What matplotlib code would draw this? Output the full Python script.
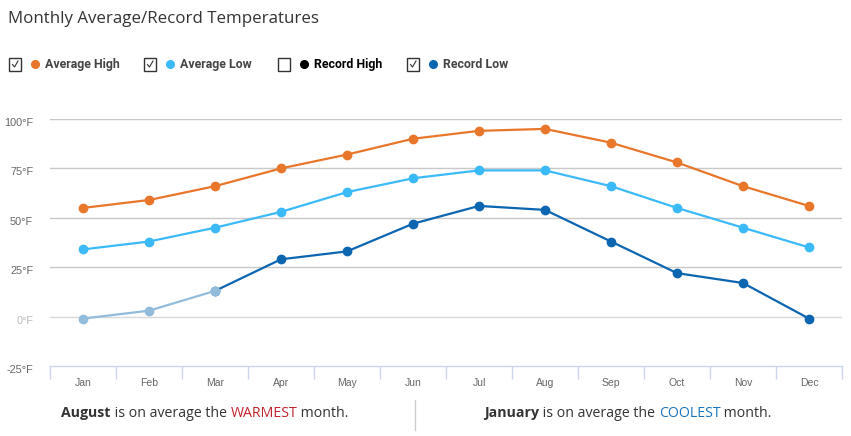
import matplotlib
matplotlib.use('Agg')
import matplotlib.pyplot as plt
import matplotlib.transforms as mtransforms
from matplotlib.lines import Line2D
from matplotlib.patches import Rectangle

months = ['Jan', 'Feb', 'Mar', 'Apr', 'May', 'Jun', 'Jul', 'Aug', 'Sep', 'Oct', 'Nov', 'Dec']
avg_high = [55, 59, 66, 75, 82, 90, 94, 95, 88, 78, 66, 56]
avg_low = [34, 38, 45, 53, 63, 70, 74, 74, 66, 55, 45, 35]
record_low = [-1, 3, 13, 29, 33, 47, 56, 54, 38, 22, 17, -1]
y_ticks = [-25, 0, 25, 50, 75, 100]
y_labels = ['-25°F', '0°F', '25°F', '50°F', '75°F', '100°F']

legend_names = ['Average High', 'Average Low', 'Record High', 'Record Low']
legend_colors = ['#e8762b', '#3cbaf7', '#000000', '#0b65b1']
legend_checked = [True, True, False, True]

c_high, c_low, c_rec = '#e8762b', '#3cbaf7', '#0b65b1'
c_faded = '#93bcdc'

W, H = 851, 436
fig = plt.figure(figsize=(W / 100, H / 100), dpi=100)

def fx(px):
    return px / W

def fy(py):
    return 1 - py / H

ax = fig.add_axes([fx(50), fy(366), fx(842) - fx(50), fy(119) - fy(366)])
ax.set_xlim(-0.5, 11.5)
ax.set_ylim(-25, 100)
for s in ['top', 'right', 'left']:
    ax.spines[s].set_visible(False)
ax.spines['bottom'].set_color('#ccd6eb')
ax.spines['bottom'].set_linewidth(1)

for v in y_ticks[1:]:
    ax.axhline(v, color='#c8c8c8' if v != 0 else '#d8d8d8', lw=1, zorder=0)

x = list(range(12))
ax.plot(x, avg_high, color=c_high, lw=1.6, marker='o', ms=6, zorder=3)
ax.plot(x, avg_low, color=c_low, lw=1.6, marker='o', ms=6, zorder=3)
ax.plot(x[2:], record_low[2:], color=c_rec, lw=1.6, marker='o', ms=6, zorder=3)
ax.plot(x[:3], record_low[:3], color=c_faded, lw=1.6, marker='o', ms=6, zorder=4)

ax.set_yticks(y_ticks)
ax.set_yticklabels(y_labels)
ax.tick_params(axis='y', length=0, pad=15, labelsize=7.8, labelcolor='#666666')
shift = mtransforms.ScaledTranslation(4 / 100, -3 / 100, fig.dpi_scale_trans)
for lbl in ax.get_yticklabels():
    lbl.set_fontfamily('Liberation Sans')
    lbl.set_transform(lbl.get_transform() + shift)
ax.get_yticklabels()[1].set_color('#bbbbbb')

ax.set_xticks(x)
ax.set_xticklabels(months)
ax.tick_params(axis='x', which='major', length=0, pad=9, labelsize=7.5, labelcolor='#666666')
for lbl in ax.get_xticklabels():
    lbl.set_fontfamily('Liberation Sans')
ax.set_xticks([i - 0.5 for i in range(13)], minor=True)
ax.tick_params(axis='x', which='minor', length=9, color='#ccd6eb', width=1)

# title
fig.text(fx(8), fy(19), 'Monthly Average/Record Temperatures', fontsize=12.2,
         family='Open Sans', color='#333333', ha='left', va='center')

# legend with checkboxes
box_x = [9, 144, 278, 407]
for bx, name, col, chk in zip(box_x, legend_names, legend_colors, legend_checked):
    fig.patches.append(Rectangle((fx(bx), fy(71)), fx(12), fy(58) - fy(71),
                                 transform=fig.transFigure, facecolor='white',
                                 edgecolor='#333333', lw=1))
    if chk:
        fig.lines.append(Line2D([fx(bx + 3.5), fx(bx + 5.5), fx(bx + 9)],
                                [fy(64.5), fy(67), fy(61)],
                                transform=fig.transFigure, color='#333333', lw=0.8))
    fig.lines.append(Line2D([fx(bx + 26)], [fy(64)], transform=fig.transFigure,
                            marker='o', ms=5.5, color=col, lw=0))
    fig.text(fx(bx + 36), fy(64.5), name, fontsize=8.9, fontweight='bold', family='Roboto',
             color='#000000' if not chk else '#444444', ha='left', va='center')

# bottom summary
fig.canvas.draw()
renderer = fig.canvas.get_renderer()

def rich_line(cx, py, parts):
    texts = []
    for s, w, c in parts:
        t = fig.text(0, fy(py), s, fontsize=10.2, family='Open Sans', fontweight=w,
                     color=c, ha='left', va='center')
        texts.append(t)
    widths = [t.get_window_extent(renderer).width for t in texts]
    start = cx - sum(widths) / 2
    for t, w in zip(texts, widths):
        t.set_x(fx(start))
        start += w

rich_line(205, 413, [('August', 'bold', '#333333'), (' is on average the ', 'normal', '#333333'),
                     ('WARMEST', 'normal', '#c0232c'), (' month.', 'normal', '#333333')])
rich_line(628, 413, [('January', 'bold', '#333333'), (' is on average the ', 'normal', '#333333'),
                     ('COOLEST', 'normal', '#1b74bb'), (' month.', 'normal', '#333333')])
fig.lines.append(Line2D([fx(414.5), fx(414.5)], [fy(400), fy(430)], transform=fig.transFigure,
                        color='#cccccc', lw=1))

fig.savefig('out.png', dpi=100, facecolor='white')
